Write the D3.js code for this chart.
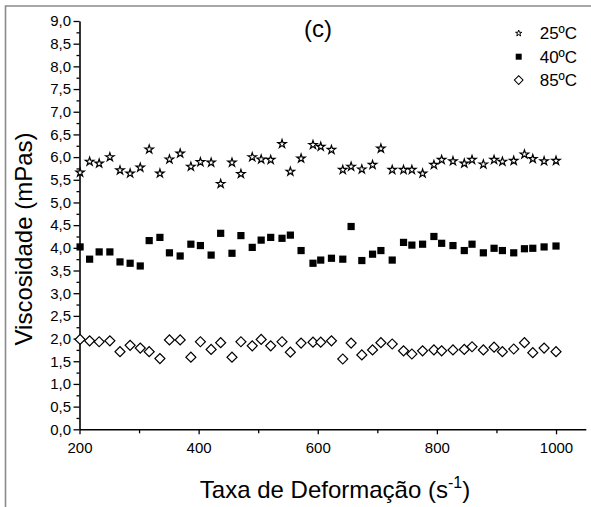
<!DOCTYPE html>
<html>
<head>
<meta charset="utf-8">
<script src="https://cdn.jsdelivr.net/npm/d3@7"></script>
<style>
body { margin: 0; background: #fff; }
svg { display: block; }
svg text { font-family: "Liberation Sans", Arial, Helvetica, sans-serif !important; fill: #000; }
</style>
</head>
<body>
<svg id="chart" width="591" height="507"></svg>
<script>
// shear rate (s-1), same for the three temperatures
var shearRate = [201, 217, 233, 251, 268, 285, 302, 317, 335, 351,
                 369, 387, 403, 421, 437, 456, 471, 490, 505, 521,
                 540, 554, 572, 592, 605, 623, 642, 656, 674, 692,
                 706, 725, 744, 758, 776, 795, 808, 827, 846, 859,
                 878, 896, 910, 929, 947, 961, 980, 1000];

var visc25 = [5.66, 5.90, 5.86, 6.00, 5.71, 5.64, 5.77, 6.17, 5.64, 5.95,
              6.08, 5.79, 5.89, 5.88, 5.41, 5.88, 5.63, 6.00, 5.95, 5.94,
              6.29, 5.68, 5.97, 6.27, 6.23, 6.16, 5.72, 5.79, 5.73, 5.83,
              6.19, 5.72, 5.72, 5.72, 5.64, 5.83, 5.94, 5.91, 5.86, 5.94,
              5.84, 5.94, 5.90, 5.92, 6.06, 5.96, 5.91, 5.92];

var visc40 = [4.02, 3.75, 3.91, 3.91, 3.69, 3.66, 3.60, 4.16, 4.23, 3.89,
              3.82, 4.08, 4.05, 3.84, 4.32, 3.88, 4.27, 4.01, 4.17, 4.23,
              4.21, 4.28, 3.94, 3.66, 3.73, 3.77, 3.75, 4.47, 3.72, 3.86,
              3.94, 3.73, 4.12, 4.06, 4.08, 4.25, 4.10, 4.05, 3.94, 4.08,
              3.89, 3.99, 3.94, 3.89, 3.98, 3.99, 4.02, 4.04];

var visc85 = [1.98, 1.95, 1.93, 1.95, 1.71, 1.85, 1.79, 1.71, 1.56, 1.97,
              1.97, 1.59, 1.93, 1.76, 1.91, 1.59, 1.93, 1.84, 1.98, 1.84,
              1.93, 1.70, 1.90, 1.92, 1.92, 1.95, 1.55, 1.90, 1.64, 1.75,
              1.91, 1.88, 1.73, 1.66, 1.73, 1.75, 1.73, 1.75, 1.76, 1.82,
              1.75, 1.81, 1.71, 1.77, 1.91, 1.69, 1.79, 1.71];

var seriesNames = ["25ºC", "40ºC", "85ºC"];
var xTicks = [200, 400, 600, 800, 1000];
var xMinor = [300, 500, 700, 900];
var yTicks = [0, 0.5, 1, 1.5, 2, 2.5, 3, 3.5, 4, 4.5, 5, 5.5, 6, 6.5, 7, 7.5, 8, 8.5, 9];
var yMinor = [0.25, 0.75, 1.25, 1.75, 2.25, 2.75, 3.25, 3.75, 4.25, 4.75, 5.25, 5.75, 6.25, 6.75, 7.25, 7.75, 8.25, 8.75];

function render() {
    var svg = d3.select("#chart");
    svg.selectAll("*").remove();

    var xs = d3.scaleLinear().domain([200, 1050]).range([79.5, 585.8]);
    var ys = d3.scaleLinear().domain([0, 9]).range([429.3, 21]);

    // figure frame (only left and top edges are visible)
    svg.append("path")
        .attr("d", "M5.5,507V6H591")
        .attr("fill", "none")
        .attr("stroke", "#8a8a8a")
        .attr("stroke-width", 1.6);

    var commaFmt = function(d) { return d3.format(".1f")(d).replace(".", ","); };

    // minor ticks first, then the main axes on top
    svg.append("g")
        .attr("transform", "translate(" + xs.range()[0] + ",0)")
        .call(d3.axisLeft(ys).tickValues(yMinor).tickSize(3).tickFormat(""))
        .call(function(g) { g.select(".domain").remove(); })
        .selectAll("line").attr("stroke-width", 1.3);

    svg.append("g")
        .attr("transform", "translate(0," + ys.range()[0] + ")")
        .call(d3.axisBottom(xs).tickValues(xMinor).tickSize(4).tickFormat(""))
        .call(function(g) { g.select(".domain").remove(); })
        .selectAll("line").attr("stroke-width", 1.3);

    var yAxis = d3.axisLeft(ys)
        .tickValues(yTicks)
        .tickSizeInner(6)
        .tickSizeOuter(0)
        .tickPadding(2.5)
        .tickFormat(commaFmt);

    var xAxis = d3.axisBottom(xs)
        .tickValues(xTicks)
        .tickSizeInner(5)
        .tickSizeOuter(0)
        .tickPadding(8)
        .tickFormat(d3.format("d"));

    var gy = svg.append("g")
        .attr("transform", "translate(" + xs.range()[0] + ",0)")
        .call(yAxis);
    var gx = svg.append("g")
        .attr("transform", "translate(0," + ys.range()[0] + ")")
        .call(xAxis);

    [gx, gy].forEach(function(g) {
        g.selectAll(".domain").attr("stroke", "#000").attr("stroke-width", 1.6);
        g.selectAll("line").attr("stroke", "#000").attr("stroke-width", 1.3);
        g.selectAll("text").attr("font-size", 15);
    });

    // axis titles
    svg.append("text")
        .attr("transform", "translate(31.5,239) rotate(-90)")
        .attr("text-anchor", "middle")
        .attr("font-size", 24)
        .text("Viscosidade (mPas)");

    var xt = svg.append("text")
        .attr("x", 335)
        .attr("y", 498)
        .attr("text-anchor", "middle")
        .attr("font-size", 24)
        .text("Taxa de Deformação (s");
    xt.append("tspan").attr("dy", -10).attr("font-size", 16).text("-1");
    xt.append("tspan").attr("dy", 10).text(")");

    svg.append("text")
        .attr("x", 318)
        .attr("y", 37)
        .attr("text-anchor", "middle")
        .attr("font-size", 24)
        .text("(c)");

    // symbols
    var star = d3.symbol().type(d3.symbolStar).size(22);
    var square = d3.symbol().type(d3.symbolSquare).size(52);
    var diamond = d3.symbol().type(d3.symbolSquare).size(50);

    var plot = svg.append("g");

    plot.selectAll("path.s25")
        .data(visc25)
        .enter()
        .append("path")
            .attr("class", "s25")
            .attr("d", star)
            .attr("transform", function(d, i) { return "translate(" + xs(shearRate[i]) + "," + ys(d) + ")"; })
            .attr("fill", "#fff")
            .attr("stroke", "#000")
            .attr("stroke-width", 1.2);

    plot.selectAll("path.s40")
        .data(visc40)
        .enter()
        .append("path")
            .attr("class", "s40")
            .attr("d", square)
            .attr("transform", function(d, i) { return "translate(" + xs(shearRate[i]) + "," + ys(d) + ")"; })
            .attr("fill", "#000");

    plot.selectAll("path.s85")
        .data(visc85)
        .enter()
        .append("path")
            .attr("class", "s85")
            .attr("d", diamond)
            .attr("transform", function(d, i) { return "translate(" + xs(shearRate[i]) + "," + ys(d) + ") rotate(45)"; })
            .attr("fill", "#fff")
            .attr("stroke", "#000")
            .attr("stroke-width", 1.2);

    // legend
    var legend = svg.append("g").attr("transform", "translate(518.7,33.3)");
    var legendSym = [
        { d: d3.symbol().type(d3.symbolStar).size(12)(), fill: "#fff", stroke: "#000", rot: 0 },
        { d: d3.symbol().type(d3.symbolSquare).size(36)(), fill: "#000", stroke: "none", rot: 0 },
        { d: d3.symbol().type(d3.symbolSquare).size(38)(), fill: "#fff", stroke: "#000", rot: 45 }
    ];
    seriesNames.forEach(function(name, i) {
        var row = legend.append("g").attr("transform", "translate(0," + (i * 23.4) + ")");
        row.append("path")
            .attr("d", legendSym[i].d)
            .attr("transform", "rotate(" + legendSym[i].rot + ")")
            .attr("fill", legendSym[i].fill)
            .attr("stroke", legendSym[i].stroke)
            .attr("stroke-width", 1);
        row.append("text")
            .attr("x", 21)
            .attr("y", 6)
            .attr("font-size", 17)
            .text(name);
    });
}

render();
</script>
</body>
</html>
